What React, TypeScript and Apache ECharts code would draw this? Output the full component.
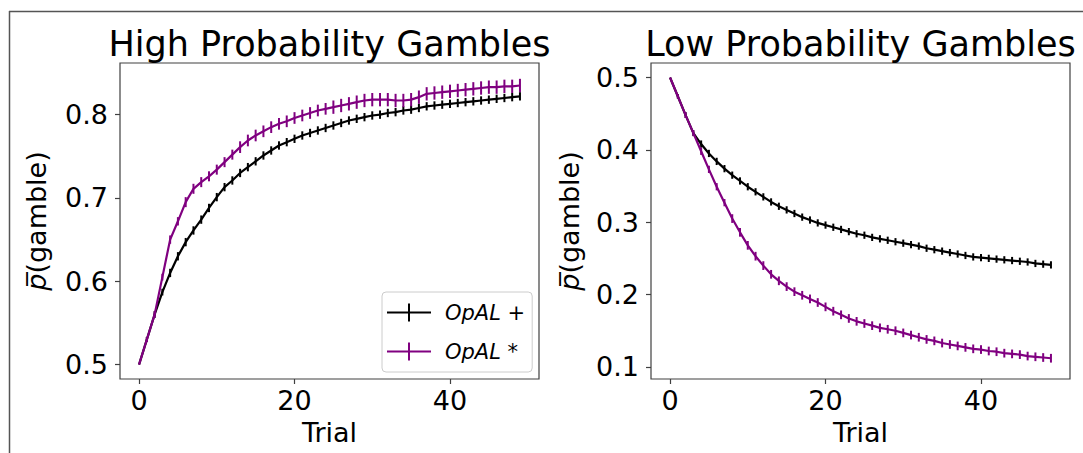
import React, { useEffect, useRef } from "react";
import * as echarts from "echarts";

const TRIALS: number[] = Array.from({ length: 50 }, (_, i) => i);

const HIGH_OPAL_PLUS = [
  0.5, 0.53, 0.56, 0.587, 0.61, 0.63, 0.647, 0.661, 0.674, 0.688,
  0.701, 0.713, 0.721, 0.73, 0.737, 0.744, 0.751, 0.757, 0.763, 0.767,
  0.771, 0.775, 0.778, 0.781, 0.784, 0.787, 0.79, 0.793, 0.795, 0.797,
  0.799, 0.8, 0.802, 0.803, 0.805, 0.806, 0.808, 0.81, 0.811, 0.812,
  0.813, 0.814, 0.815, 0.816, 0.817, 0.818, 0.819, 0.82, 0.821, 0.822,
];
const HIGH_OPAL_PLUS_ERR = [
  0, 0.003, 0.004, 0.004, 0.005, 0.005, 0.005, 0.005, 0.005, 0.005,
  0.005, 0.005, 0.005, 0.005, 0.005, 0.005, 0.005, 0.005, 0.005, 0.005,
  0.005, 0.005, 0.005, 0.005, 0.005, 0.005, 0.005, 0.005, 0.005, 0.005,
  0.005, 0.005, 0.005, 0.005, 0.005, 0.005, 0.005, 0.005, 0.005, 0.005,
  0.005, 0.005, 0.005, 0.005, 0.005, 0.005, 0.005, 0.005, 0.005, 0.005,
];
const HIGH_OPAL_STAR = [
  0.5, 0.53, 0.56, 0.605, 0.65, 0.672, 0.695, 0.711, 0.719, 0.726,
  0.734, 0.743, 0.752, 0.761, 0.769, 0.775, 0.78, 0.785, 0.789, 0.792,
  0.796, 0.799, 0.802, 0.805, 0.807, 0.809, 0.811, 0.813, 0.815, 0.817,
  0.818, 0.818, 0.818, 0.817, 0.817, 0.818, 0.821, 0.825, 0.826, 0.827,
  0.828, 0.829, 0.83, 0.831, 0.832, 0.833, 0.833, 0.834, 0.834, 0.835,
];
const HIGH_OPAL_STAR_ERR = [
  0, 0.003, 0.004, 0.004, 0.005, 0.005, 0.006, 0.006, 0.006, 0.006,
  0.006, 0.006, 0.006, 0.007, 0.007, 0.007, 0.007, 0.007, 0.007, 0.007,
  0.007, 0.007, 0.007, 0.007, 0.007, 0.008, 0.008, 0.008, 0.008, 0.008,
  0.008, 0.008, 0.008, 0.008, 0.008, 0.008, 0.008, 0.008, 0.008, 0.008,
  0.008, 0.008, 0.008, 0.008, 0.008, 0.008, 0.008, 0.008, 0.008, 0.008,
];
const LOW_OPAL_PLUS = [
  0.5, 0.474, 0.448, 0.423, 0.408, 0.395, 0.384, 0.374, 0.365, 0.357,
  0.349, 0.342, 0.335, 0.328, 0.322, 0.317, 0.312, 0.307, 0.303, 0.299,
  0.296, 0.293, 0.29, 0.287, 0.284, 0.282, 0.279, 0.277, 0.275, 0.273,
  0.271, 0.269, 0.267, 0.264, 0.262, 0.26, 0.258, 0.256, 0.254, 0.252,
  0.251, 0.25, 0.249, 0.248, 0.247, 0.246, 0.245, 0.243, 0.242, 0.241,
];
const LOW_OPAL_PLUS_ERR = [
  0, 0.003, 0.004, 0.004, 0.005, 0.005, 0.005, 0.005, 0.005, 0.005,
  0.005, 0.005, 0.005, 0.005, 0.005, 0.005, 0.005, 0.005, 0.005, 0.005,
  0.005, 0.005, 0.005, 0.005, 0.005, 0.005, 0.005, 0.005, 0.005, 0.005,
  0.005, 0.005, 0.005, 0.005, 0.005, 0.005, 0.005, 0.005, 0.005, 0.005,
  0.005, 0.005, 0.005, 0.005, 0.005, 0.005, 0.005, 0.005, 0.005, 0.005,
];
const LOW_OPAL_STAR = [
  0.5, 0.474, 0.448, 0.423, 0.398, 0.373, 0.349, 0.327, 0.305, 0.286,
  0.268, 0.253, 0.24, 0.228, 0.219, 0.211, 0.204, 0.199, 0.194, 0.189,
  0.183, 0.177, 0.172, 0.167, 0.163, 0.16, 0.157, 0.154, 0.152, 0.15,
  0.147, 0.144, 0.141, 0.138, 0.136, 0.133, 0.131, 0.129, 0.127, 0.125,
  0.124, 0.122, 0.121, 0.119, 0.118, 0.117, 0.115, 0.114, 0.113, 0.112,
];
const LOW_OPAL_STAR_ERR = [
  0, 0.003, 0.004, 0.004, 0.005, 0.005, 0.005, 0.005, 0.006, 0.006,
  0.006, 0.006, 0.006, 0.006, 0.006, 0.006, 0.006, 0.006, 0.006, 0.006,
  0.006, 0.006, 0.006, 0.006, 0.006, 0.006, 0.006, 0.006, 0.006, 0.006,
  0.006, 0.006, 0.006, 0.006, 0.006, 0.006, 0.006, 0.006, 0.006, 0.006,
  0.006, 0.006, 0.006, 0.006, 0.006, 0.006, 0.006, 0.006, 0.006, 0.006,
];

const X_TICKS = [0, 20, 40];
const HIGH_Y_TICKS = [0.5, 0.6, 0.7, 0.8];
const LOW_Y_TICKS = [0.1, 0.2, 0.3, 0.4, 0.5];
const TITLES = ["High Probability Gambles", "Low Probability Gambles"];
const NAMES = ["OpAL +", "OpAL *"];
const COLORS = ["#000000", "#800080"];

const FONT = "DejaVu Sans";
const FRAME = "#404040";

function pairs(ys: number[]) {
  return TRIALS.map((t, i) => [t, ys[i]]);
}
function triples(ys: number[], es: number[]) {
  return TRIALS.map((t, i) => [t, ys[i], es[i]]);
}

function errRender(color: string) {
  return (params: any, api: any) => {
    const x = api.value(0);
    const y = api.value(1);
    const e = api.value(2);
    const p1 = api.coord([x, y - e]);
    const p2 = api.coord([x, y + e]);
    return {
      type: "line",
      shape: { x1: p1[0], y1: p1[1] + 0.01, x2: p2[0], y2: p2[1] - 0.01 },
      style: { stroke: color, lineWidth: 2 },
    };
  };
}

export default function App() {
  const ref = useRef<HTMLDivElement>(null);
  useEffect(() => {
    document.body.style.margin = "0";
    const chart = echarts.init(ref.current!, undefined, { renderer: "svg" });
    const grids = [
      { left: 120, top: 63, width: 419, height: 316 },
      { left: 651, top: 63, width: 419, height: 316 },
    ];
    const xAxis = [0, 1].map((g) => ({
      type: "value",
      gridIndex: g,
      min: -2.45,
      max: 51.45,
      name: "Trial",
      nameLocation: "middle",
      nameGap: 40,
      nameTextStyle: { fontFamily: FONT, fontSize: 27, color: "#000" },
      axisLine: { show: false, onZero: false },
      splitLine: { show: false },
      axisTick: {
        show: true,
        length: 5,
        customValues: X_TICKS,
        lineStyle: { color: FRAME, width: 1.2 },
      },
      axisLabel: {
        customValues: X_TICKS,
        fontFamily: FONT,
        fontSize: 27,
        color: "#000",
        margin: 8,
      },
    }));
    const yName = {
      name: "{p|p\u0305}(gamble)",
      nameLocation: "middle",
      nameTextStyle: {
        fontFamily: FONT,
        fontSize: 27,
        color: "#000",
        rich: {
          p: { fontFamily: FONT, fontSize: 27, fontStyle: "italic", color: "#000" },
        },
      },
    };
    const yAxisFor = (g: number, min: number, max: number, ticks: number[], gap: number) => ({
      type: "value",
      gridIndex: g,
      min,
      max,
      ...yName,
      nameGap: gap,
      axisLine: { show: false, onZero: false },
      splitLine: { show: false },
      axisTick: {
        show: true,
        length: 5,
        customValues: ticks,
        lineStyle: { color: FRAME, width: 1.2 },
      },
      axisLabel: {
        customValues: ticks,
        formatter: (v: number) => v.toFixed(1),
        fontFamily: FONT,
        fontSize: 27,
        color: "#000",
        margin: 12,
      },
    });
    const yAxis = [
      yAxisFor(0, 0.4827, 0.862, HIGH_Y_TICKS, 70),
      yAxisFor(1, 0.0833, 0.52, LOW_Y_TICKS, 68),
    ];
    const sets = [
      [HIGH_OPAL_PLUS, HIGH_OPAL_PLUS_ERR, HIGH_OPAL_STAR, HIGH_OPAL_STAR_ERR],
      [LOW_OPAL_PLUS, LOW_OPAL_PLUS_ERR, LOW_OPAL_STAR, LOW_OPAL_STAR_ERR],
    ];
    const series: any[] = [];
    sets.forEach((s, g) => {
      [0, 1].forEach((k) => {
        series.push({
          type: "line",
          name: NAMES[k],
          xAxisIndex: g,
          yAxisIndex: g,
          data: pairs(s[k * 2]),
          showSymbol: false,
          symbol: "none",
          lineStyle: { color: COLORS[k], width: 2.2 },
          itemStyle: { color: COLORS[k] },
          z: 2 + k,
        });
        series.push({
          type: "custom",
          name: NAMES[k],
          xAxisIndex: g,
          yAxisIndex: g,
          data: triples(s[k * 2], s[k * 2 + 1]),
          renderItem: errRender(COLORS[k]),
          itemStyle: { color: COLORS[k] },
          z: 2 + k,
        });
      });
    });
    const icon =
      "path://M0,8L21,8L21,0L23,0L23,8L44,8L44,10L23,10L23,18L21,18L21,10L0,10Z";
    chart.setOption({
      animation: false,
      grid: grids.map((g) => ({
        ...g,
        show: true,
        borderColor: FRAME,
        borderWidth: 1.2,
        backgroundColor: "transparent",
      })),
      xAxis,
      yAxis,
      series,
      legend: {
        data: NAMES.map((n) => ({ name: n, icon })),
        orient: "vertical",
        left: 382,
        top: 292,
        itemWidth: 44,
        itemHeight: 18,
        itemGap: 18,
        padding: [10, 7, 10, 5],
        borderColor: "#cccccc",
        borderWidth: 1,
        borderRadius: 4,
        backgroundColor: "rgba(255,255,255,0.8)",
        selectedMode: false,
        formatter: (n: string) =>
          n === "OpAL +" ? "{i|OpAL}{n| +}" : "{i|OpAL}{n| *}",
        textStyle: {
          padding: [0, 0, 0, 9],
          rich: {
            i: { fontFamily: FONT, fontSize: 21, fontStyle: "italic", color: "#000" },
            n: { fontFamily: FONT, fontSize: 21, color: "#000" },
          },
        },
      },
      graphic: [
        ...TITLES.map((t, i) => ({
          type: "text",
          x: grids[i].left + grids[i].width / 2,
          y: 44,
          style: {
            text: t,
            fontFamily: FONT,
            fontSize: 35,
            fill: "#000",
            textAlign: "center",
            textVerticalAlign: "middle",
          },
        })),
        {
          type: "line",
          shape: { x1: 9, y1: 11.5, x2: 1083, y2: 11.5 },
          style: { stroke: "#555", lineWidth: 1.5 },
        },
        {
          type: "line",
          shape: { x1: 9.5, y1: 11, x2: 9.5, y2: 453 },
          style: { stroke: "#555", lineWidth: 1.5 },
        },
      ],
    });
    return () => chart.dispose();
  }, []);
  return <div ref={ref} style={{ width: 1083, height: 453 }} />;
}
